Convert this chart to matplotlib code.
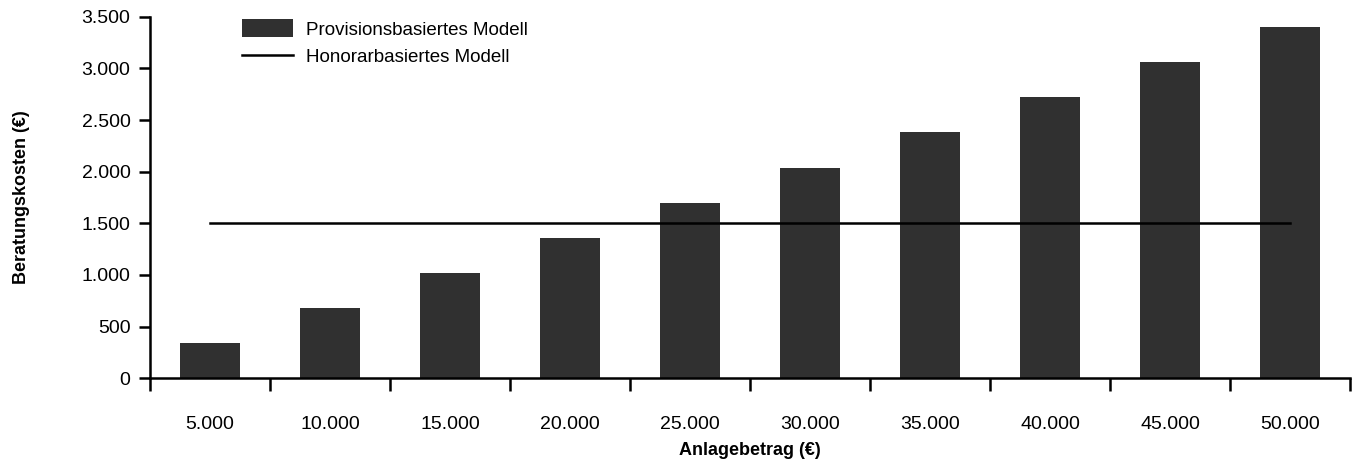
import matplotlib.pyplot as plt
import numpy as np

plt.rcParams['font.family'] = ['Liberation Sans', 'DejaVu Sans']

# Anlagebetrag categories and costs
betrag_labels = ['5.000', '10.000', '15.000', '20.000', '25.000',
                 '30.000', '35.000', '40.000', '45.000', '50.000']
provision = [340, 680, 1020, 1360, 1700, 2040, 2380, 2720, 3060, 3400]
honorar = [1500, 1500, 1500, 1500, 1500, 1500, 1500, 1500, 1500, 1500]
y_ticks = [0, 500, 1000, 1500, 2000, 2500, 3000, 3500]
y_tick_labels = ['0', '500', '1.000', '1.500', '2.000', '2.500', '3.000', '3.500']

fig = plt.figure(figsize=(13.55, 4.68), dpi=100)
ax = fig.add_axes([0.1107, 0.192, 0.8856, 0.772])

x = np.arange(len(betrag_labels))
bars = ax.bar(x, provision, width=0.5, color='#303030', label='Provisionsbasiertes Modell', zorder=2)
line, = ax.plot(x, honorar, color='black', linewidth=1.8, label='Honorarbasiertes Modell', zorder=3)

ax.set_xlim(-0.5, len(x) - 0.5)
ax.set_ylim(0, 3500)

# labels centred under bars, tick marks between bars
ax.set_xticks(x)
ax.set_xticklabels(betrag_labels)
ax.set_xticks(np.arange(-0.5, len(x)), minor=True)
ax.tick_params(axis='x', which='major', length=0, pad=27, labelsize=14)
ax.tick_params(axis='x', which='minor', length=9, width=1.8, direction='out')

ax.set_yticks(y_ticks)
ax.set_yticklabels(y_tick_labels)
ax.tick_params(axis='y', length=8, width=1.8, direction='out', labelsize=14, pad=6)

for side in ['top', 'right']:
    ax.spines[side].set_visible(False)
for side in ['left', 'bottom']:
    ax.spines[side].set_linewidth(1.8)

ax.set_xlabel('Anlagebetrag (€)', fontweight='bold', fontsize=13, labelpad=7)
ax.set_ylabel('Beratungskosten (€)', fontweight='bold', fontsize=13, labelpad=37)

ax.legend([bars, line], ['Provisionsbasiertes Modell', 'Honorarbasiertes Modell'],
          loc='upper left', bbox_to_anchor=(0.063, 1.04), frameon=False,
          fontsize=13.5, handlelength=2.7, handleheight=1.1, labelspacing=0.45,
          handletextpad=0.7)

fig.savefig('out.png', dpi=100)
